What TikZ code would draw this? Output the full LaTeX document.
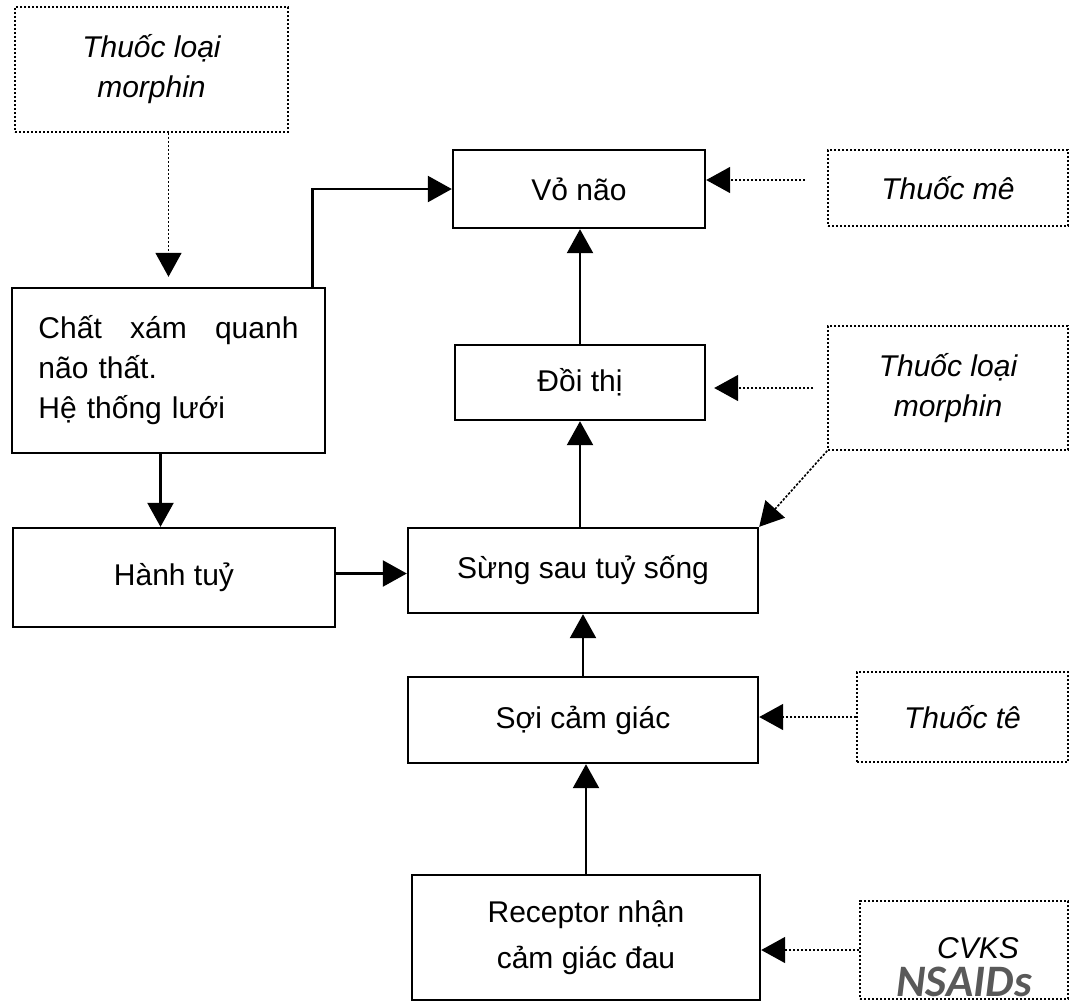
\documentclass[tikz,border=0pt]{standalone}
\usepackage{fontspec}
\setmainfont{Liberation Sans}
\newfontfamily\nsaidsfont{Carlito}
\usetikzlibrary{arrows.meta}
\definecolor{nsaidgray}{RGB}{89,89,89}

\begin{document}
\begin{tikzpicture}[x=0.5pt, y=-0.5pt,
  solidbox/.style={draw, line width=1.2pt, inner sep=0pt, align=center, font=\fontsize{15}{20}\selectfont},
  drugbox/.style={draw, dash pattern=on 1.2pt off 0.8pt, line width=0.8pt, inner sep=0pt, align=center, font=\fontsize{15}{20}\selectfont\itshape},
  arr/.style={line width=1.2pt, -{Triangle[length=12pt, width=13pt]}},
  dotarr/.style={dash pattern=on 1.2pt off 0.8pt, line width=0.8pt, -{Triangle[length=12pt, width=13pt]}}]
  \useasboundingbox (0,0) rectangle (1070,1002);

  \node[drugbox, minimum width=136.5pt, minimum height=62.5pt] (morphinTop) at (151.5,69.5) {Thuốc loại\\morphin};
  \node[solidbox, minimum width=156.5pt, minimum height=82.5pt, text width=130pt, align=left] (chatXam) at (168.5,370.5)
    {Chất\hfill xám\hfill quanh\\ não thất.\\ Hệ thống lưới};
  \node[solidbox, minimum width=161pt, minimum height=49.5pt] (hanhTuy) at (174,577.5) {Hành tuỷ};
  \node[solidbox, minimum width=126pt, minimum height=39pt] (voNao) at (579,189) {Vỏ não};
  \node[solidbox, minimum width=125pt, minimum height=37.5pt] (doiThi) at (580,382.5) {Đồi thị};
  \node[solidbox, minimum width=175pt, minimum height=42.5pt] (sungSau) at (583,570.5) {Sừng sau tuỷ sống};
  \node[solidbox, minimum width=175pt, minimum height=43pt] (soiCamGiac) at (583,720) {Sợi cảm giác};
  \node[solidbox, minimum width=174pt, minimum height=62.5pt, font=\fontsize{15}{23}\selectfont] (receptor) at (586,937.5) {Receptor nhận\\cảm giác đau};

  \node[drugbox, minimum width=120pt, minimum height=38pt] (thuocMe) at (948,188) {Thuốc mê};
  \node[drugbox, minimum width=120pt, minimum height=62pt] (morphinRight) at (948,388) {Thuốc loại\\morphin};
  \node[drugbox, minimum width=105.5pt, minimum height=45pt] (thuocTe) at (962.5,717) {Thuốc tê};
  \node[drugbox, minimum width=104pt, minimum height=49pt] (cvks) at (964,950) {};
  \node[font=\fontsize{15}{20}\selectfont\itshape, anchor=base, inner sep=0pt] (cvksText) at (978,958) {CVKS};
  \node[font=\nsaidsfont\bfseries\itshape\fontsize{22.5}{24}\selectfont, text=nsaidgray, anchor=base, inner sep=0pt] (nsaids) at (964,996) {NSAIDs};

  \draw[dotarr, shorten >=5pt] (morphinTop.south -| chatXam.north) -- (chatXam.north);
  \draw[arr] ([xshift=-4pt]chatXam.south) -- ([xshift=-4pt]chatXam.south |- hanhTuy.north);
  \draw[arr] ([xshift=72pt]chatXam.north) |- (voNao.west);
  \draw[arr] ([yshift=2pt]hanhTuy.east) -- ([yshift=2pt]sungSau.west |- hanhTuy.east);
  \draw[arr] (doiThi.south |- sungSau.north) -- (doiThi.south);
  \draw[arr] (doiThi.north) -- (voNao.south -| doiThi.north);
  \draw[arr] (soiCamGiac.north) -- (sungSau.south -| soiCamGiac.north);
  \draw[arr] (receptor.north) -- (receptor.north |- soiCamGiac.south);

  \draw[dotarr, shorten <=11pt] ([yshift=4pt]thuocMe.west) -- ([yshift=4pt]thuocMe.west -| voNao.east);
  \draw[dotarr, shorten <=7pt, shorten >=4pt] (morphinRight.west) -- (morphinRight.west -| doiThi.east);
  \draw[dotarr] (morphinRight.south west) -- (sungSau.north east);
  \draw[dotarr] (thuocTe.west) -- (thuocTe.west -| soiCamGiac.east);
  \draw[dotarr] (cvks.west) -- (cvks.west -| receptor.east);
\end{tikzpicture}
\end{document}
